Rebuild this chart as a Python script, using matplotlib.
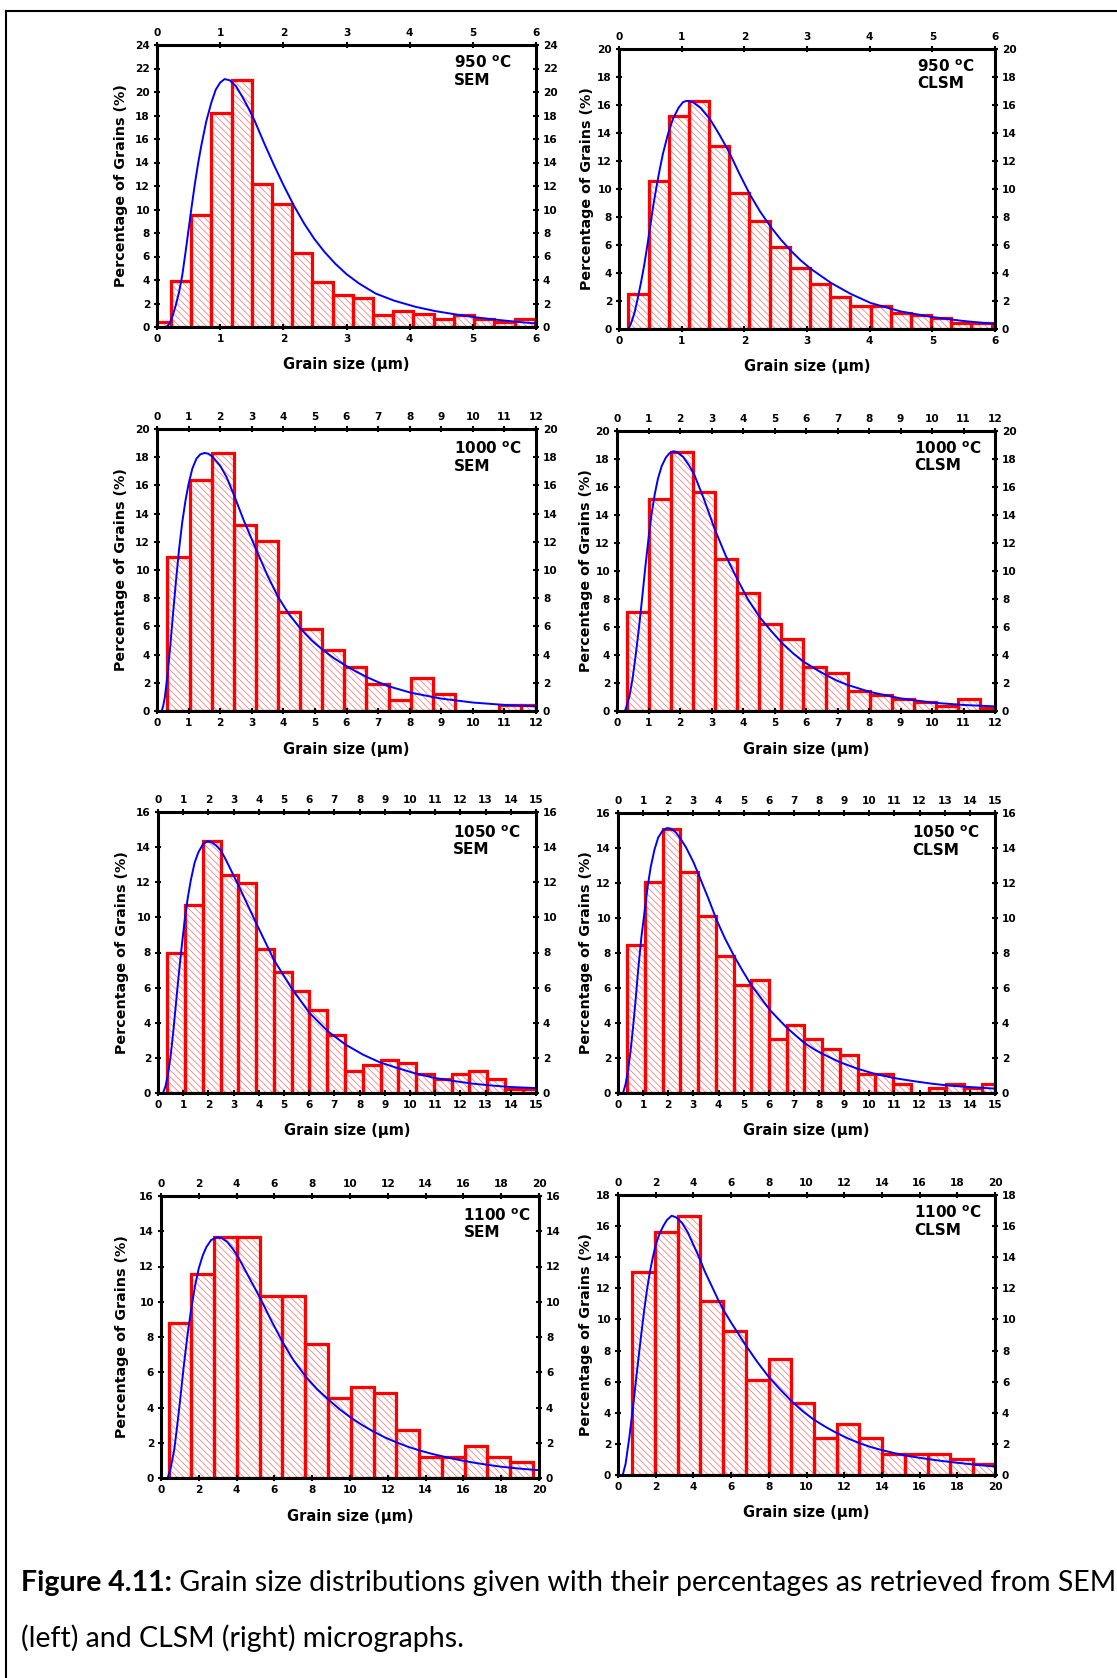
import matplotlib
matplotlib.use("Agg")
import matplotlib.pyplot as plt
import numpy as np
from matplotlib.lines import Line2D

# ---------------- data ----------------
titles = ["950 $^{\\bf o}$C\nSEM", "950 $^{\\bf o}$C\nCLSM",
          "1000 $^{\\bf o}$C\nSEM", "1000 $^{\\bf o}$C\nCLSM",
          "1050 $^{\\bf o}$C\nSEM", "1050 $^{\\bf o}$C\nCLSM",
          "1100 $^{\\bf o}$C\nSEM", "1100 $^{\\bf o}$C\nCLSM"]

# histogram bins: first left edge, bin width, bar heights (%)
bin_start = [-0.10, 0.15, 0.33, 0.32, 0.37, 0.37, 0.40, 0.76]
bin_width = [0.32, 0.322, 0.70, 0.70, 0.705, 0.705, 1.205, 1.205]

h1 = [0.4, 3.9, 9.5, 18.2, 21.0, 12.2, 10.5, 6.3, 3.8, 2.75, 2.45, 1.05, 1.4, 1.07, 0.7, 1.05, 0.68, 0.4, 0.68]
h2 = [2.5, 10.6, 15.2, 16.28, 13.06, 9.73, 7.68, 5.89, 4.39, 3.19, 2.31, 1.64, 1.66, 1.12, 1.0, 0.76, 0.46, 0.46]
h3 = [10.95, 16.35, 18.3, 13.2, 12.06, 7.0, 5.83, 4.31, 3.13, 1.94, 0.8, 2.37, 1.18, 0, 0, 0.4, 0.4]
h4 = [7.05, 15.17, 18.5, 15.64, 10.83, 8.43, 6.24, 5.14, 3.14, 2.71, 1.43, 1.12, 0.83, 0.64, 0.33, 0.83, 0.24]
h5 = [8.0, 10.7, 14.34, 12.44, 11.97, 8.18, 6.91, 5.83, 4.73, 3.28, 1.27, 1.57, 1.89, 1.7, 1.1, 0.8, 1.1, 1.23, 0.8, 0.23, 0.23]
h6 = [8.44, 12.06, 15.1, 12.63, 10.1, 7.83, 6.19, 6.44, 3.07, 3.9, 3.07, 2.5, 2.2, 1.1, 1.07, 0.53, 0, 0.3, 0.53, 0.3, 0.53]
h7 = [8.81, 11.55, 13.66, 13.66, 10.32, 10.32, 7.58, 4.56, 5.17, 4.83, 2.71, 1.19, 1.19, 1.8, 1.19, 0.91]
h8 = [13.07, 15.64, 16.67, 11.18, 9.26, 6.1, 7.46, 4.6, 2.36, 3.28, 2.36, 1.35, 1.35, 1.35, 1.0, 0.69]
heights = [h1, h2, h3, h4, h5, h6, h7, h8]

# fitted (blue) curves
c1x = [0.15, 0.20, 0.25, 0.30, 0.35, 0.40, 0.45, 0.50, 0.55, 0.60, 0.65, 0.70, 0.78, 0.86, 0.93, 1.00, 1.07,
       1.15, 1.25, 1.35, 1.45, 1.55, 1.70, 1.85, 2.00, 2.17, 2.33, 2.49, 2.65, 2.82, 3.00, 3.20, 3.46, 3.75,
       4.09, 4.40, 4.74, 5.05, 5.37, 5.70, 6.00]
c1y = [0.0, 0.3, 1.0, 1.9, 3.0, 4.4, 6.3, 8.3, 10.3, 12.2, 13.9, 15.4, 17.5, 19.1, 20.2, 20.8, 21.1,
       21.0, 20.5, 19.6, 18.6, 17.5, 15.6, 13.8, 12.1, 10.3, 8.8, 7.5, 6.4, 5.4, 4.5, 3.7, 2.85, 2.25,
       1.72, 1.36, 1.06, 0.82, 0.62, 0.44, 0.3]
c2x = [0.15, 0.20, 0.25, 0.30, 0.35, 0.40, 0.45, 0.50, 0.55, 0.60, 0.65, 0.70, 0.78, 0.86, 0.95, 1.02, 1.08,
       1.18, 1.30, 1.45, 1.60, 1.75, 1.92, 2.09, 2.25, 2.42, 2.58, 2.74, 2.90, 3.06, 3.38, 3.70, 4.02, 4.50,
       5.00, 5.50, 6.00]
c2y = [0.0, 0.5, 1.2, 2.2, 3.3, 4.5, 5.9, 7.4, 8.9, 10.2, 11.4, 12.5, 13.9, 15.0, 15.8, 16.2, 16.3,
       16.2, 15.8, 15.0, 13.9, 12.7, 11.1, 9.6, 8.4, 7.3, 6.4, 5.6, 4.9, 4.3, 3.3, 2.5, 1.85, 1.25,
       0.85, 0.57, 0.36]
c3x = [0.15, 0.20, 0.25, 0.33, 0.42, 0.50, 0.60, 0.70, 0.80, 0.90, 1.00, 1.12, 1.25, 1.37, 1.50, 1.62, 1.75,
       2.00, 2.20, 2.44, 2.75, 3.13, 3.50, 3.83, 4.17, 4.52, 4.90, 5.24, 5.60, 5.95, 6.30, 6.65, 7.00, 7.34,
       8.03, 9.00, 10.00, 11.00, 12.00]
c3y = [0.0, 0.4, 1.0, 2.5, 4.6, 6.7, 9.2, 11.5, 13.4, 14.9, 16.1, 17.2, 17.9, 18.2, 18.3, 18.25, 18.05,
       17.4, 16.6, 15.3, 13.5, 11.5, 9.6, 8.1, 6.9, 5.9, 5.0, 4.35, 3.75, 3.25, 2.8, 2.4, 2.05, 1.75,
       1.3, 0.88, 0.6, 0.43, 0.33]
c4x = [0.25, 0.30, 0.40, 0.50, 0.60, 0.70, 0.80, 0.90, 1.00, 1.10, 1.20, 1.30, 1.42, 1.55, 1.66, 1.78, 1.90,
       2.10, 2.30, 2.45, 2.75, 3.10, 3.45, 3.80, 4.15, 4.53, 4.90, 5.24, 5.60, 5.94, 6.30, 6.65, 7.00, 7.34,
       8.03, 9.00, 10.00, 11.00, 12.00]
c4y = [0.0, 0.3, 1.1, 2.4, 4.1, 6.0, 8.1, 10.3, 12.3, 14.1, 15.5, 16.6, 17.5, 18.1, 18.4, 18.55, 18.5,
       18.15, 17.5, 16.9, 15.2, 13.0, 11.1, 9.5, 8.0, 6.7, 5.7, 4.85, 4.1, 3.5, 3.0, 2.55, 2.15, 1.85,
       1.36, 0.9, 0.6, 0.43, 0.33]
c5x = [0.20, 0.30, 0.40, 0.50, 0.60, 0.70, 0.80, 0.93, 1.06, 1.18, 1.30, 1.45, 1.60, 1.78, 1.95, 2.10, 2.30,
       2.50, 2.70, 3.20, 3.90, 4.60, 5.30, 6.00, 6.75, 7.45, 8.14, 8.80, 9.50, 10.20, 11.00, 11.80, 12.50,
       13.20, 14.00, 15.00]
c5y = [0.0, 0.4, 1.1, 2.1, 3.4, 4.9, 6.4, 8.2, 9.85, 11.1, 12.1, 13.1, 13.7, 14.15, 14.34, 14.3, 14.1,
       13.8, 13.26, 11.8, 9.66, 7.58, 5.97, 4.58, 3.5, 2.75, 2.18, 1.75, 1.42, 1.12, 0.85, 0.67, 0.53,
       0.43, 0.34, 0.28]
c6x = [0.20, 0.30, 0.40, 0.50, 0.60, 0.70, 0.80, 0.93, 1.06, 1.18, 1.30, 1.45, 1.60, 1.78, 1.95, 2.10, 2.30,
       2.50, 2.70, 3.00, 3.23, 3.60, 3.92, 4.25, 4.61, 4.95, 5.31, 5.70, 6.04, 6.40, 6.74, 7.10, 7.43, 7.80,
       8.16, 8.80, 9.50, 10.20, 11.00, 11.80, 12.50, 13.20, 14.00, 15.00]
c6y = [0.0, 0.5, 1.3, 2.4, 3.77, 5.3, 7.0, 8.9, 10.4, 11.8, 12.9, 13.9, 14.6, 15.0, 15.14, 15.1, 14.9,
       14.5, 14.05, 13.2, 12.4, 11.1, 9.9, 8.85, 7.85, 7.0, 6.15, 5.4, 4.75, 4.2, 3.7, 3.25, 2.85, 2.5,
       2.22, 1.78, 1.4, 1.1, 0.85, 0.67, 0.53, 0.42, 0.34, 0.25]
c7x = [0.35, 0.50, 0.70, 0.85, 1.00, 1.20, 1.40, 1.60, 1.80, 2.00, 2.20, 2.40, 2.65, 2.95, 3.20, 3.50, 3.80,
       4.10, 4.60, 5.25, 5.85, 6.44, 7.00, 7.66, 8.25, 8.86, 9.45, 10.05, 10.65, 11.27, 11.85, 12.46, 13.05,
       13.66, 14.30, 15.00, 15.70, 16.50, 17.20, 18.00, 19.00, 20.00]
c7y = [0.0, 0.5, 1.6, 2.9, 4.3, 6.3, 8.1, 9.6, 10.9, 11.9, 12.6, 13.1, 13.5, 13.66, 13.62, 13.4, 13.0,
       12.5, 11.5, 10.2, 8.9, 7.7, 6.7, 5.75, 5.05, 4.45, 3.9, 3.42, 3.0, 2.62, 2.3, 2.02, 1.78,
       1.57, 1.38, 1.2, 1.04, 0.88, 0.76, 0.64, 0.53, 0.44]
c8x = [0.25, 0.40, 0.60, 0.80, 1.00, 1.20, 1.40, 1.55, 1.70, 1.85, 2.00, 2.20, 2.40, 2.60, 2.85, 3.10, 3.40,
       3.70, 4.00, 4.30, 4.60, 4.95, 5.30, 5.65, 6.00, 6.40, 6.80, 7.40, 8.00, 8.60, 9.20, 9.80, 10.40, 11.00,
       11.60, 12.20, 12.80, 13.40, 14.00, 14.75, 15.50, 16.25, 17.00, 17.75, 18.50, 19.25, 20.00]
c8y = [0.0, 0.7, 2.4, 4.4, 6.6, 8.7, 10.7, 12.0, 13.1, 14.0, 14.8, 15.5, 16.0, 16.4, 16.67, 16.55, 16.2,
       15.6, 14.8, 14.0, 13.1, 12.2, 11.3, 10.5, 9.8, 9.05, 8.3, 7.25, 6.3, 5.5, 4.75, 4.1, 3.55, 3.1,
       2.7, 2.35, 2.05, 1.8, 1.6, 1.38, 1.2, 1.06, 0.93, 0.82, 0.72, 0.63, 0.54]
curves_x = [c1x, c2x, c3x, c4x, c5x, c6x, c7x, c8x]
curves_y = [c1y, c2y, c3y, c4y, c5y, c6y, c7y, c8y]

# axis ranges and tick steps
x_max = [6, 6, 12, 12, 15, 15, 20, 20]
x_step = [1, 1, 1, 1, 1, 1, 2, 2]
y_max = [24, 20, 20, 20, 16, 16, 16, 18]
y_step = [2, 2, 2, 2, 2, 2, 2, 2]

caption_bold = "Figure 4.11:"
caption_1 = " Grain size distributions given with their percentages as retrieved from SEM"
caption_2 = "(left) and CLSM (right) micrographs."

# ---------------- layout (pixels in the 1117x1678 canvas) ----------------
W, H, DPI = 1117, 1678, 100
boxes = [(157, 45, 536, 327), (619, 49, 995, 329),
         (157, 429, 536, 711), (617, 431, 995, 711),
         (158, 812, 536, 1093), (618, 813, 995, 1093),
         (161, 1196, 539, 1478), (618, 1195, 995, 1475)]
title_pos = [(0.784, 0.965), (0.793, 0.968), (0.784, 0.958), (0.786, 0.967),
             (0.781, 0.955), (0.781, 0.958), (0.800, 0.960), (0.786, 0.965)]
ylab_off = [35.5, 32.5, 35.5, 31, 36, 32, 39, 32]

plt.rcParams['font.family'] = ['DejaVu Sans']
plt.rcParams['font.weight'] = 'bold'
plt.rcParams['hatch.linewidth'] = 0.55
HATCH = '#f47c7c'
plt.rcParams['hatch.color'] = HATCH

fig = plt.figure(figsize=(W / DPI, H / DPI), dpi=DPI)
fig.patch.set_facecolor('white')

for i in range(8):
    l, t, r, b = boxes[i]
    axw, axh = r - l, b - t
    ax = fig.add_axes([l / W, 1 - b / H, axw / W, axh / H])
    hs = heights[i]
    lefts = bin_start[i] + bin_width[i] * np.arange(len(hs))
    ax.bar(lefts, hs, bin_width[i], align='edge', facecolor='white',
           edgecolor=HATCH, hatch='\\\\\\\\\\', linewidth=0, zorder=1)
    ax.bar(lefts, hs, bin_width[i], align='edge', fill=False,
           edgecolor='#ff0000', linewidth=2.3, zorder=1.2)
    ax.plot(curves_x[i], curves_y[i], color='#0000ff', lw=1.4, zorder=2,
            solid_joinstyle='round')
    ax.set_xlim(0, x_max[i])
    ax.set_ylim(0, y_max[i])
    ax.set_xticks(np.arange(0, x_max[i] + 0.001, x_step[i]))
    ax.set_yticks(np.arange(0, y_max[i] + 0.001, y_step[i]))
    ax.tick_params(direction='inout', length=5, width=1.5, top=True, right=True,
                   labeltop=True, labelright=True, labelsize=7.6, pad=2.5)
    for s in ax.spines.values():
        s.set_linewidth(2.2)
    ax.set_xlabel("Grain size (\u03bcm)", fontsize=10.5, fontweight='bold')
    ax.xaxis.set_label_coords(0.5, -38 / axh)
    ax.xaxis.label.set_va('center')
    ax.set_ylabel("Percentage of Grains (%)", fontsize=10.3, fontweight='bold')
    ax.yaxis.set_label_coords(-ylab_off[i] / axw, 0.5)
    ax.yaxis.label.set_va('center')
    tx, ty = title_pos[i]
    ax.text(tx, ty, titles[i], transform=ax.transAxes, ha='left', va='top',
            fontsize=11, fontweight='bold', linespacing=1.1)

# border lines around the figure page
fig.add_artist(Line2D([5.5 / W, 5.5 / W], [0, 1 - 10.7 / H], color='black', lw=1.5))
fig.add_artist(Line2D([5.5 / W, 1], [1 - 10.7 / H, 1 - 10.7 / H], color='black', lw=1.5))

# caption
y1 = 1 - 1583 / H
y2 = 1 - 1638 / H
x0 = 21
target = 1092
fs = 18
cap_font = ['Lato', 'DejaVu Sans']
t1 = fig.text(x0 / W, y1, caption_bold, fontsize=fs, fontweight='bold', family=cap_font, va='center')
t2 = fig.text(0, y1, caption_1, fontsize=fs, fontweight='normal', family=cap_font, va='center')
t3 = fig.text(x0 / W, y2, caption_2, fontsize=fs, fontweight='normal', family=cap_font, va='center')
renderer = fig.canvas.get_renderer()
w = t1.get_window_extent(renderer).width + t2.get_window_extent(renderer).width
fs = fs * target / w
for t in (t1, t2, t3):
    t.set_fontsize(fs)
w1 = t1.get_window_extent(renderer).width
t2.set_x((x0 + w1) / W)

fig.savefig("out.png", dpi=DPI, facecolor='white')
